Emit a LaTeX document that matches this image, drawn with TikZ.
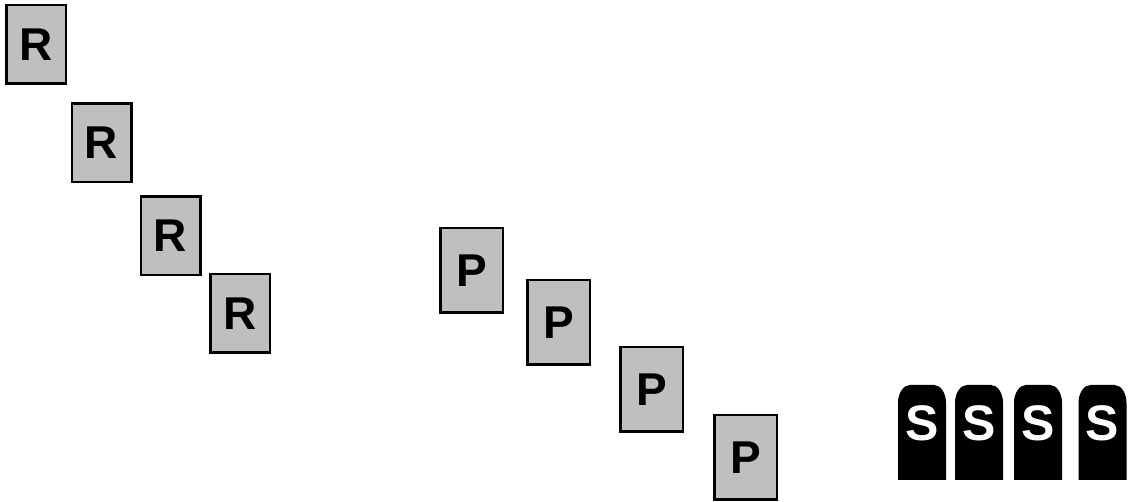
\documentclass[tikz,border=0pt]{standalone}
\usepackage{fontspec}
\setsansfont{Liberation Sans}
\usepackage{tikz}
\usetikzlibrary{positioning}

\begin{document}
\begin{tikzpicture}[x=1pt,y=-1pt,
  every node/.style={font=\sffamily\bfseries\fontsize{46}{46}\selectfont,inner sep=0pt},
  rbox/.style={draw,line width=2.5pt,fill=gray!50,minimum width=59.5pt,minimum height=78.5pt},
  pbox/.style={draw,line width=2.5pt,fill=gray!50,minimum width=62.5pt,minimum height=84.5pt},
  sletter/.style={text=white,font=\sffamily\bfseries\fontsize{50}{50}\selectfont}]
\useasboundingbox (0,0) rectangle (1128,502);
  \node (r1) at (36,44.5)[rbox]{R};
  \node (r2) at (101.5,143)[rbox]{R};
  \node (r3) at (170.5,236)[rbox]{R};
  \node (r4) at (240,313.5)[rbox]{R};
  \node (p1) at (471.5,270.5)[pbox]{P};
  \node (p2) at (558.5,322.5)[pbox]{P};
  \node (p3) at (651.5,389.5)[pbox]{P};
  \node (p4) at (745.5,457.5)[pbox]{P};
% the black stones
\foreach \i/\x in {1/922,2/979,3/1038,4/1102.5}{
  \fill (\x-24,480) -- (\x-24,403) arc[start angle=180,end angle=270,x radius=12,y radius=18]
    -- (\x+12,385) arc[start angle=270,end angle=360,x radius=12,y radius=18] -- (\x+24,480) -- cycle;
  \node (s\i) at (\x,423)[sletter]{S};
}
\end{tikzpicture}
\end{document}
